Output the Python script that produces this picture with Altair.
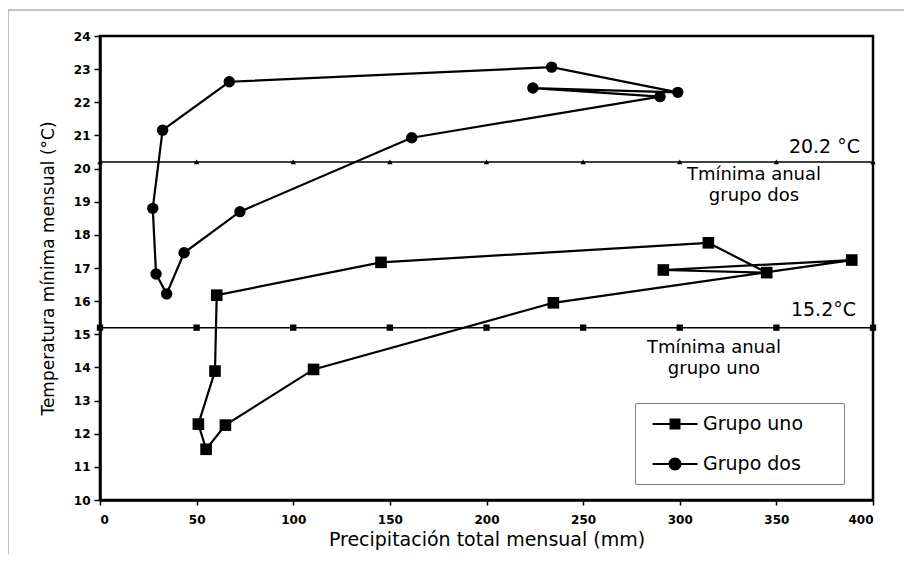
import altair as alt
import pandas as pd

# ---- data (path order, loop closes back to first point) ----
uno_precip = [234.6, 389.0, 291.5, 345.0, 314.8, 145.4, 60.4, 59.5, 50.9, 54.9, 64.9, 110.5]
uno_temp = [15.95, 17.24, 16.94, 16.86, 17.76, 17.17, 16.18, 13.89, 12.29, 11.53, 12.26, 13.94]

dos_precip = [161.3, 289.8, 224.0, 299.0, 233.7, 66.9, 32.4, 27.3, 29.0, 34.5, 43.5, 72.4]
dos_temp = [20.93, 22.17, 22.43, 22.30, 23.06, 22.62, 21.16, 18.80, 16.82, 16.22, 17.46, 18.70]

groups = ["Grupo uno", "Grupo dos"]
thr_uno = 15.2
thr_dos = 20.2
ref_x = [0, 50, 100, 150, 200, 250, 300, 350, 400]
x_ticks = [0, 50, 100, 150, 200, 250, 300, 350, 400]
y_ticks = list(range(10, 25))

FONT = "DejaVu Sans"

# ---- frames ----
rows_pts, rows_line = [], []
for g, px, ty in [(groups[0], uno_precip, uno_temp), (groups[1], dos_precip, dos_temp)]:
    for i, (a, b) in enumerate(zip(px, ty)):
        rows_pts.append({"grupo": g, "x": a, "y": b, "orden": i})
        rows_line.append({"grupo": g, "x": a, "y": b, "orden": i})
    rows_line.append({"grupo": g, "x": px[0], "y": ty[0], "orden": len(px)})
pts = pd.DataFrame(rows_pts)
line_df = pd.DataFrame(rows_line)

thr_df = pd.DataFrame(
    [{"serie": "dos", "x": v, "y": thr_dos} for v in ref_x]
    + [{"serie": "uno", "x": v, "y": thr_uno} for v in ref_x]
)

xs = alt.Scale(domain=[0, 400], nice=False, zero=False)
ys = alt.Scale(domain=[10, 24], nice=False, zero=False)

x_axis = alt.Axis(
    values=x_ticks, title="Precipitación total mensual (mm)", grid=False,
    labelFont=FONT, labelFontSize=12, labelFontWeight="bold", labelColor="black",
    labelPadding=9, tickSize=5, tickWidth=1.5, tickColor="black",
    domainColor="black", domainWidth=2.5, labelOverlap=False,
    titleFont=FONT, titleFontSize=19, titleFontWeight="normal", titleColor="black",
    titleY=45, titleBaseline="alphabetic",
)
y_axis = alt.Axis(
    values=y_ticks, title="Temperatura mínima mensual (°C)", grid=False,
    labelFont=FONT, labelFontSize=12, labelFontWeight="bold", labelColor="black",
    labelPadding=4, tickSize=6, tickWidth=1.5, tickColor="black",
    domainColor="black", domainWidth=2.5, labelOverlap=False,
    titleFont=FONT, titleFontSize=17, titleFontWeight="normal", titleColor="black",
    titleX=-47, titleBaseline="alphabetic",
)


def X():
    return alt.X("x:Q", scale=xs, axis=x_axis)


def Y():
    return alt.Y("y:Q", scale=ys, axis=y_axis)


frame = alt.Chart(pd.DataFrame({"k": [0]})).mark_rect(
    fill="transparent", stroke="#8a8a8a", strokeWidth=1
).encode(x=alt.value(-92), x2=alt.value(1200), y=alt.value(-26), y2=alt.value(1200))

lines = alt.Chart(line_df).mark_line(color="black", strokeWidth=2.2).encode(
    x=X(), y=Y(), detail="grupo:N", order="orden:Q"
)

points = alt.Chart(pts).mark_point(filled=True, opacity=1, color="black").encode(
    x=X(),
    y=Y(),
    shape=alt.Shape("grupo:N", scale=alt.Scale(domain=groups, range=["square", "circle"]), legend=None),
    size=alt.Size("grupo:N", scale=alt.Scale(domain=groups, range=[135, 130]), legend=None),
)

thr_lines = alt.Chart(thr_df).mark_line(color="black", strokeWidth=1.5).encode(
    x=X(), y=Y(), detail="serie:N"
)
thr_pts = alt.Chart(thr_df).mark_point(filled=True, opacity=1, color="black").encode(
    x=X(),
    y=Y(),
    shape=alt.Shape("serie:N", scale=alt.Scale(domain=["uno", "dos"], range=["square", "triangle-up"]), legend=None),
    size=alt.Size("serie:N", scale=alt.Scale(domain=["uno", "dos"], range=[40, 30]), legend=None),
)

# legend (library legend, symbols = line with marker)
sq_path = "M-2.05,-0.09H2.05V0.09H-2.05Z M-0.5,-0.5H0.5V0.5H-0.5Z"
ci_path = "M-2.05,-0.09H2.05V0.09H-2.05Z M0.59,0A0.59,0.59,0,1,1,-0.59,0A0.59,0.59,0,1,1,0.59,0Z"
pad_txt = "\u00a0" * 5 + "\u200b"
legend_layer = alt.Chart(pts).transform_filter("datum.x < -1000").mark_point(
    filled=True, opacity=1, color="black"
).encode(
    x=X(),
    y=Y(),
    shape=alt.Shape(
        "grupo:N",
        scale=alt.Scale(domain=groups, range=[sq_path, ci_path]),
        legend=alt.Legend(
            title=None, orient="none", legendX=535, legendY=367,
            strokeColor="#808080", fillColor="white", padding=10, rowPadding=19,
            symbolSize=484, symbolStrokeWidth=0, symbolFillColor="black",
            symbolOpacity=1, symbolOffset=19, labelOffset=17,
            labelFont=FONT, labelFontSize=19, labelColor="black",
            labelExpr="datum.label + '" + pad_txt + "'",
        ),
    ),
)


def ann(x, y, text, align, dx, dy, size, lh=21):
    return alt.Chart(pd.DataFrame({"x": [x], "y": [y], "t": [text]})).mark_text(
        align=align, baseline="alphabetic", dx=dx, dy=dy, font=FONT, fontSize=size,
        color="black", lineBreak="\n", lineHeight=lh,
    ).encode(x=X(), y=Y(), text="t:N")


a1 = ann(400, thr_dos, f"{thr_dos} °C", "right", -13, -9, 19)
a2 = ann(338.4, thr_dos, "Tmínima anual\ngrupo dos", "center", 0, 18, 18)
a3 = ann(400, thr_uno, f"{thr_uno}°C", "right", -17, -11.6, 19)
a4 = ann(317.7, thr_uno, "Tmínima anual\ngrupo uno", "center", 0, 25.4, 18)

chart = alt.layer(
    frame, lines, thr_lines, thr_pts, points, a1, a2, a3, a4, legend_layer
).resolve_scale(shape="independent", size="independent").properties(
    width=773,
    height=464,
    padding={"left": 92, "top": 28, "right": 31, "bottom": 55},
    autosize=alt.AutoSizeParams(type="none"),
    background="white",
).configure_view(stroke="black", strokeWidth=2.5)

chart.save("out.html", embed_options={"renderer": "svg", "actions": False})
